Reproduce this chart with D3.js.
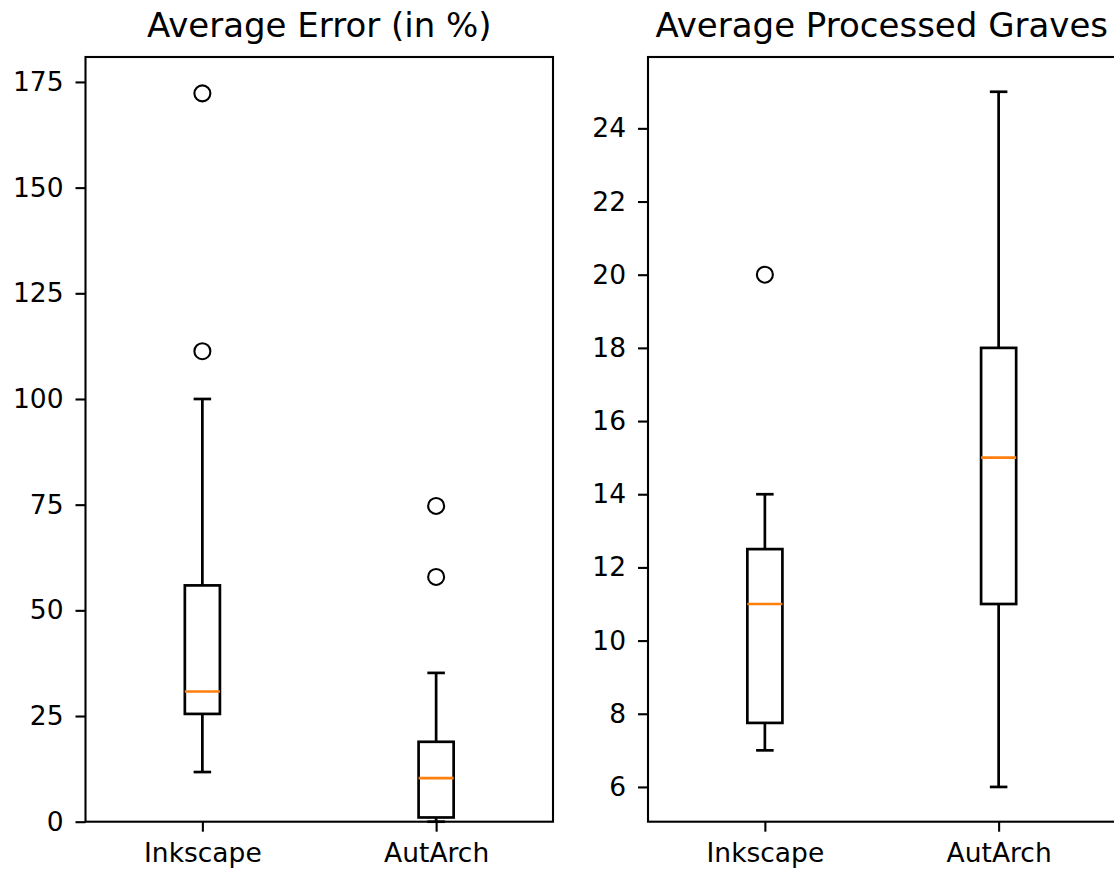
<!DOCTYPE html>
<html>
<head>
<meta charset="utf-8">
<script src="https://cdn.jsdelivr.net/npm/d3@7"></script>
<style>
  body { margin: 0; background: #fff; }
  svg { display: block; font-family: "DejaVu Sans", sans-serif; }
</style>
</head>
<body>
<div id="chart"></div>
<script>
// categorias
var categories = ["Inkscape", "AutArch"];

// panel izquierdo: error medio (%)
var errorLow = [11.75, 0];
var errorQ1 = [25.5, 1.0];
var errorMedian = [30.8, 10.3];
var errorQ3 = [55.9, 18.9];
var errorHigh = [100, 35.2];
var errorOutliers = [[111.3, 172.3], [57.9, 74.7]];
var errorTicks = [0, 25, 50, 75, 100, 125, 150, 175];

// panel derecho: tumbas procesadas
var gravesLow = [7, 6];
var gravesQ1 = [7.75, 11];
var gravesMedian = [11, 15];
var gravesQ3 = [12.5, 18];
var gravesHigh = [14, 25];
var gravesOutliers = [[20], []];
var gravesTicks = [6, 8, 10, 12, 14, 16, 18, 20, 22, 24];

var width = 1114;
var height = 872;
var axTop = 57, axBottom = 821.7, axW = 467.5;

var svg = d3.select("#chart").append("svg")
  .attr("width", width)
  .attr("height", height);

function panel(left, title, domain, ticks, low, q1, med, q3, high, outliers) {
  var g = svg.append("g").attr("transform", "translate(" + left + ",0)");

  var x = d3.scaleLinear().domain([0.5, 2.5]).range([0, axW]);
  var y = d3.scaleLinear().domain(domain).range([axBottom, axTop]);
  var boxW = x(1.075) - x(0.925);
  var capW = boxW / 2;

  var yAxis = d3.axisLeft(y).tickValues(ticks).tickSize(10).tickPadding(12).tickSizeOuter(0);
  var yg = g.append("g").call(yAxis);
  var xAxis = d3.axisBottom(x).tickValues([1, 2]).tickSize(10).tickPadding(11).tickSizeOuter(0)
    .tickFormat(function (d) { return categories[d - 1]; });
  var xg = g.append("g").attr("transform", "translate(0," + axBottom + ")").call(xAxis);
  [yg, xg].forEach(function (a) {
    a.attr("font-family", "DejaVu Sans, sans-serif").attr("font-size", null);
    a.select(".domain").remove();
    a.selectAll("line").attr("stroke", "#000").attr("stroke-width", 2.1);
    a.selectAll("text").attr("fill", "#000").style("font-size", "26.5px");
  });

  var data = categories.map(function (c, i) {
    return { pos: i + 1, low: low[i], q1: q1[i], med: med[i], q3: q3[i], high: high[i], out: outliers[i] };
  });

  var box = g.selectAll(".box").data(data).enter().append("g").attr("class", "box");
  var lw = 2.7;
  // bigotes
  box.append("line")
    .attr("x1", function (d) { return x(d.pos); }).attr("x2", function (d) { return x(d.pos); })
    .attr("y1", function (d) { return y(d.low); }).attr("y2", function (d) { return y(d.q1); })
    .attr("stroke", "#000").attr("stroke-width", lw);
  box.append("line")
    .attr("x1", function (d) { return x(d.pos); }).attr("x2", function (d) { return x(d.pos); })
    .attr("y1", function (d) { return y(d.q3); }).attr("y2", function (d) { return y(d.high); })
    .attr("stroke", "#000").attr("stroke-width", lw);
  ["low", "high"].forEach(function (k) {
    box.append("line")
      .attr("x1", function (d) { return x(d.pos) - capW / 2; })
      .attr("x2", function (d) { return x(d.pos) + capW / 2; })
      .attr("y1", function (d) { return y(d[k]); }).attr("y2", function (d) { return y(d[k]); })
      .attr("stroke", "#000").attr("stroke-width", lw);
  });
  // caja
  box.append("rect")
    .attr("x", function (d) { return x(d.pos) - boxW / 2; })
    .attr("width", boxW)
    .attr("y", function (d) { return y(d.q3); })
    .attr("height", function (d) { return y(d.q1) - y(d.q3); })
    .attr("fill", "none").attr("stroke", "#000").attr("stroke-width", lw);
  // mediana
  box.append("line")
    .attr("x1", function (d) { return x(d.pos) - boxW / 2; })
    .attr("x2", function (d) { return x(d.pos) + boxW / 2; })
    .attr("y1", function (d) { return y(d.med); }).attr("y2", function (d) { return y(d.med); })
    .attr("stroke", "#ff7f0e").attr("stroke-width", lw);
  // atipicos
  box.each(function (d) {
    d3.select(this).selectAll("circle").data(d.out).enter().append("circle")
      .attr("cx", x(d.pos))
      .attr("cy", function (v) { return y(v); })
      .attr("r", 8)
      .attr("fill", "none").attr("stroke", "#000").attr("stroke-width", 2.1);
  });

  // marco
  g.append("rect")
    .attr("x", 0).attr("y", axTop)
    .attr("width", axW).attr("height", axBottom - axTop)
    .attr("fill", "none").attr("stroke", "#000").attr("stroke-width", 2.1);

  g.append("text")
    .attr("x", axW / 2).attr("y", 37)
    .attr("text-anchor", "middle")
    .style("font-size", "34px")
    .attr("fill", "#000")
    .text(title);
}

panel(85.5, "Average Error (in %)", [0, 180.9], errorTicks,
  errorLow, errorQ1, errorMedian, errorQ3, errorHigh, errorOutliers);
panel(648, "Average Processed Graves", [5.05, 25.95], gravesTicks,
  gravesLow, gravesQ1, gravesMedian, gravesQ3, gravesHigh, gravesOutliers);
</script>
</body>
</html>
